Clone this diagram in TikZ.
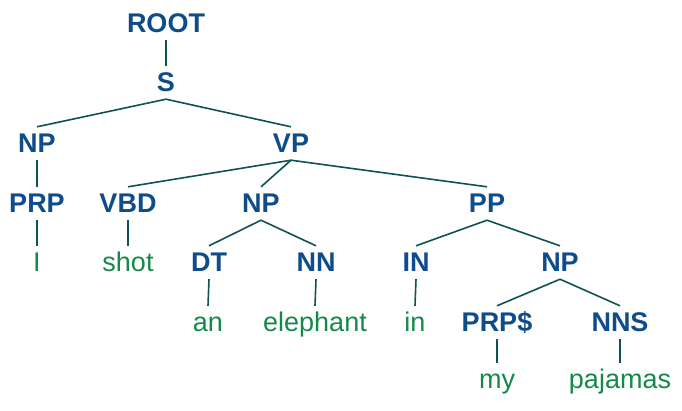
\documentclass[tikz,border=0pt]{standalone}
\usepackage{fontspec}
\setmainfont{Liberation Sans}
\definecolor{tagblue}{HTML}{0F4C8A}
\definecolor{wordgreen}{HTML}{14894A}
\definecolor{edgeteal}{HTML}{0E5353}
\begin{document}
\begin{tikzpicture}[x=1pt,y=-1pt,
  treenode/.style={anchor=base,inner xsep=0pt,inner ysep=5.5pt,
    text height=19.5pt,text depth=2.5pt,font=\fontsize{27}{32}\selectfont},
  tag/.style={treenode,text=tagblue,font=\fontsize{27}{32}\selectfont\bfseries},
  word/.style={treenode,text=wordgreen},
  edge/.style={draw=edgeteal,line width=1.6pt}]
\useasboundingbox (0,0) rectangle (682,410);
% phrase and part-of-speech tags
\node[tag] (root) at (166,32) {ROOT};
\node[tag] (s) at (166,91) {S};
\node[tag] (np1) at (37,152) {NP};
\node[tag] (vp) at (291,152) {VP};
\node[tag] (prp) at (37,212) {PRP};
\node[tag] (vbd) at (128,212) {VBD};
\node[tag] (np2) at (261,212) {NP};
\node[tag] (pp) at (487,212) {PP};
\node[tag] (dt) at (209,271) {DT};
\node[tag] (nn) at (316,271) {NN};
\node[tag] (in) at (416,271) {IN};
\node[tag] (np3) at (560,271) {NP};
\node[tag] (prps) at (497,331) {PRP\$};
\node[tag] (nns) at (620,331) {NNS};
% words
\node[word] (wI) at (37,271) {I};
\node[word] (wshot) at (128,271) {shot};
\node[word] (wan) at (208,331) {an};
\node[word] (welephant) at (315,331) {elephant};
\node[word] (win) at (415,331) {in};
\node[word] (wmy) at (497,388) {my};
\node[word] (wpajamas) at (620,388) {pajamas};
% branches
\foreach \p/\c in {root/s, s/np1, s/vp, np1/prp, vp/vbd, vp/np2, vp/pp,
    prp/wI, vbd/wshot, np2/dt, np2/nn, pp/in, pp/np3, dt/wan, nn/welephant,
    in/win, np3/prps, np3/nns, prps/wmy, nns/wpajamas}
  \draw[edge] (\p.south) -- (\c.north);
\end{tikzpicture}
\end{document}
